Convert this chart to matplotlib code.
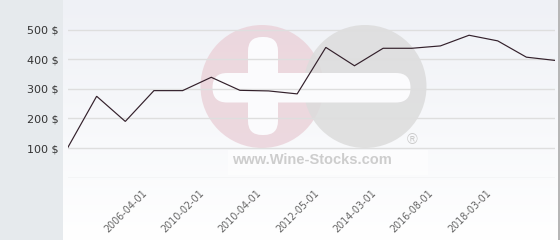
import matplotlib
matplotlib.use("Agg")
import matplotlib.pyplot as plt
import matplotlib.patches as mpatches
import matplotlib.transforms as mtransforms
from matplotlib.colors import LinearSegmentedColormap
import numpy as np

# ---- data ----
prices = [103, 275, 190, 294, 294, 339, 295, 293, 283, 440, 378, 437, 437, 445, 481, 462, 407, 396]
tick_labels = ["2006-04-01", "2010-02-01", "2010-04-01", "2012-05-01",
               "2014-03-01", "2016-08-01", "2018-03-01"]
tick_index = [3, 5, 7, 9, 11, 13, 15]
y_ticks = [100, 200, 300, 400, 500]
y_tick_labels = ["100 $", "200 $", "300 $", "400 $", "500 $"]
grid_values = [0, 100, 200, 300, 400, 500]

W, H = 560, 240
fig = plt.figure(figsize=(W / 100, H / 100), dpi=100)
fig.patch.set_facecolor("white")

# background / decoration axes in pixel coordinates
bg = fig.add_axes([0, 0, 1, 1], zorder=0)
bg.set_xlim(0, W)
bg.set_ylim(H, 0)
bg.axis("off")

bg.add_patch(mpatches.Rectangle((0, 0), 63, H, color="#e6eaed", lw=0))
grad = np.linspace(0, 1, 256).reshape(-1, 1)
cmap = LinearSegmentedColormap.from_list("g", ["#eff1f6", "#ffffff"])
bg.imshow(grad, cmap=cmap, extent=(63, 558, H, 0), aspect="auto", origin="upper", zorder=0)
bg.plot([559, 559], [0, H], color="#a8a8a8", lw=1.2, zorder=1)

# watermark
wm_alpha = 0.85
bg.add_patch(mpatches.Circle((262, 86.5), 61.5, color="#ebd3da", lw=0, alpha=wm_alpha, zorder=2))
bg.add_patch(mpatches.Circle((365, 86.5), 61.5, color="#dcdcdc", lw=0, alpha=wm_alpha, zorder=3))
bg.add_patch(mpatches.FancyBboxPatch((248 + 14, 37 + 14), 2, 98 - 28,
                                     boxstyle="round,pad=14", color="#fbfbfd", lw=0, zorder=4))
bg.add_patch(mpatches.FancyBboxPatch((213 + 14, 73 + 14.5), 197 - 28, 0.5,
                                     boxstyle="round,pad=14.5", color="#fbfbfd", lw=0, zorder=4))
bg.add_patch(mpatches.Rectangle((228, 150), 200, 25, color="white", alpha=0.6, lw=0, zorder=4))
bg.text(312, 160, "www.Wine-Stocks.com", ha="center", va="center", fontsize=10.5,
        fontweight="bold", family="Liberation Sans", color="#cdcdcd", zorder=5)
bg.text(412, 140, "®", ha="center", va="center", fontsize=10.5,
        family="Liberation Sans", color="#cacaca", zorder=5)

# main chart axes
ax = fig.add_axes([68 / W, (H - 177.7) / H, 487 / W, 177.7 / H], zorder=1)
ax.patch.set_alpha(0)
x = np.arange(len(prices))
ax.set_xlim(0, len(prices) - 1)
ax.set_ylim(0, 600)
for g in grid_values:
    ax.axhline(g, color="#dedede", lw=1, zorder=1)
ax.plot(x, prices, color="#33202b", lw=0.85, zorder=3, solid_joinstyle="miter")

for s in ax.spines.values():
    s.set_visible(False)
ax.set_yticks(y_ticks)
ax.set_yticklabels(y_tick_labels, fontsize=8, color="#333333", family="DejaVu Sans")
ax.tick_params(axis="y", length=0, pad=6.5)
ax.set_xticks(tick_index)
ax.set_xticklabels(tick_labels, rotation=45,
                   ha="right", va="top", rotation_mode="anchor", fontsize=6.9,
                   color="#666666", family="DejaVu Sans")
ax.tick_params(axis="x", length=0, pad=7)
offset = mtransforms.ScaledTranslation(-12 / 100, 0, fig.dpi_scale_trans)
for lab in ax.get_xticklabels():
    lab.set_transform(lab.get_transform() + offset)

fig.savefig("out.png", dpi=100)
